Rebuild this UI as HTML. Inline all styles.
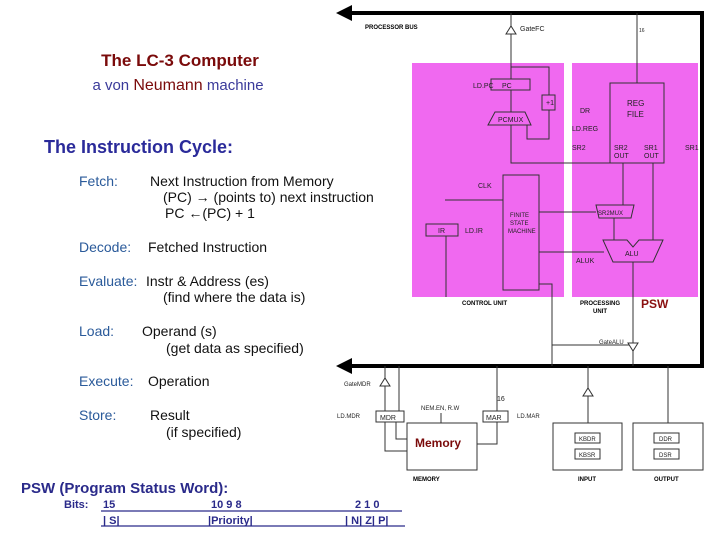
<!DOCTYPE html>
<html><head><style>
html,body{margin:0;padding:0;background:#fff;width:720px;height:540px;overflow:hidden}
</style></head><body>
<svg width="720" height="540" viewBox="0 0 720 540" xmlns="http://www.w3.org/2000/svg" font-family="Liberation Sans, sans-serif">
<!-- left text -->
<text x="180" y="66" text-anchor="middle" font-size="17" font-weight="bold" fill="#7a0a0a">The LC-3 Computer</text>
<text x="178" y="90" text-anchor="middle" font-size="15" fill="#3a3a9a">a von <tspan fill="#7a0a0a" font-size="16">Neumann</tspan> machine</text>
<text x="44" y="153" font-size="18" font-weight="bold" fill="#2a2a9a">The Instruction Cycle:</text>
<g font-size="14" fill="#111">
<text x="79" y="186" fill="#2a5a9a">Fetch:</text>
<text x="150" y="186">Next Instruction from Memory</text>
<text x="163" y="202">(PC) → (points to) next instruction</text>
<text x="165" y="218">PC ←(PC) + 1</text>
<text x="79" y="252" fill="#2a5a9a">Decode:</text>
<text x="148" y="252">Fetched Instruction</text>
<text x="79" y="286" fill="#2a5a9a">Evaluate:</text>
<text x="146" y="286">Instr &amp; Address (es)</text>
<text x="163" y="302">(find where the data is)</text>
<text x="79" y="336" fill="#2a5a9a">Load:</text>
<text x="142" y="336">Operand (s)</text>
<text x="166" y="353">(get data as specified)</text>
<text x="79" y="386" fill="#2a5a9a">Execute:</text>
<text x="148" y="386">Operation</text>
<text x="79" y="420" fill="#2a5a9a">Store:</text>
<text x="150" y="420">Result</text>
<text x="166" y="437">(if specified)</text>
</g>
<text x="21" y="493" font-size="15" font-weight="bold" fill="#2a2a8a">PSW (Program Status Word):</text>
<g font-size="11" font-weight="bold" fill="#2a2a8a">
<text x="64" y="508">Bits:</text>
<text x="103" y="508">15</text>
<text x="211" y="508">10  9  8</text>
<text x="355" y="508">2  1  0</text>
<text x="103" y="524">| S|</text>
<text x="208" y="524">|Priority|</text>
<text x="345" y="524">| N| Z| P|</text>
</g>
<g stroke="#2a2a8a" stroke-width="1.2">
<line x1="101" y1="511" x2="402" y2="511"/><line x1="101" y1="526" x2="405" y2="526"/>
</g>
<!-- pink regions -->
<rect x="412" y="63" width="152" height="234" fill="#f069f0"/>
<rect x="572" y="63" width="126" height="234" fill="#f069f0"/>
<!-- buses -->
<g stroke="#000" stroke-width="4" fill="none">
<polyline points="350,13 702,13 702,366 350,366"/>
</g>
<polygon points="336,13 352,5 352,21" fill="#000"/>
<polygon points="336,366 352,358 352,374" fill="#000"/>
<g font-size="6" font-weight="bold" fill="#000">
<text x="365" y="29">PROCESSOR BUS</text>
<text x="462" y="305">CONTROL UNIT</text>
<text x="580" y="305">PROCESSING</text><text x="593" y="313">UNIT</text>
<text x="413" y="481">MEMORY</text>
<text x="578" y="481">INPUT</text>
<text x="654" y="481">OUTPUT</text>
</g>
<text x="641" y="308" font-size="12" font-weight="bold" fill="#8a1010">PSW</text>
<!-- internal lines -->
<g stroke="#333" stroke-width="1" fill="none">
<line x1="511" y1="13" x2="511" y2="79"/>
<polyline points="511,67 549,67 549,95"/>
<polyline points="549,110 549,139 527,139 527,125"/>
<line x1="511" y1="90" x2="511" y2="112"/>
<line x1="637" y1="13" x2="637" y2="83"/>
<polyline points="511,125 511,163 653,163"/>
<line x1="623" y1="163" x2="623" y2="205"/>
<line x1="653" y1="163" x2="653" y2="240"/>
<line x1="614" y1="218" x2="614" y2="240"/>
<line x1="633" y1="262" x2="633" y2="345"/>
<polyline points="539,212 596,212"/>
<polyline points="539,252 604,252"/>
<polyline points="539,284 552,284 552,366"/>
<line x1="446" y1="236" x2="446" y2="297"/>
<line x1="445" y1="200" x2="503" y2="200"/>
<line x1="633" y1="345" x2="633" y2="366"/>
<polyline points="633,345 552,345"/>
<line x1="385" y1="366" x2="385" y2="411"/>
<line x1="399" y1="366" x2="399" y2="411"/>
<polyline points="385,422 385,451 407,451"/>
<polyline points="396,422 396,439 407,439"/>
<line x1="497" y1="366" x2="497" y2="411"/>
<polyline points="497,422 497,444 477,444"/>
<line x1="588" y1="366" x2="588" y2="423"/>
<line x1="668" y1="366" x2="668" y2="423"/>
<line x1="441" y1="413" x2="441" y2="423"/>
</g>
<!-- boxes -->
<g stroke="#333" stroke-width="1" fill="#f069f0">
<rect x="491" y="79" width="39" height="11"/>
<rect x="542" y="95" width="13" height="15"/>
<polygon points="488,125 531,125 525,112 495,112"/>
<rect x="610" y="83" width="54" height="80"/>
<rect x="503" y="175" width="36" height="115"/>
<rect x="426" y="224" width="32" height="12"/>
<polygon points="599,218 631,218 634,205 596,205"/>
<polygon points="603,240 627,240 633,247 639,240 663,240 653,262 613,262"/>
</g>
<g stroke="#333" stroke-width="1" fill="#fff">
<rect x="376" y="411" width="28" height="11"/>
<rect x="407" y="423" width="70" height="47"/>
<rect x="483" y="411" width="25" height="11"/>
<rect x="553" y="423" width="69" height="47"/>
<rect x="575" y="433" width="25" height="10"/>
<rect x="575" y="449" width="25" height="10"/>
<rect x="633" y="423" width="70" height="47"/>
<rect x="654" y="433" width="25" height="10"/>
<rect x="654" y="449" width="25" height="10"/>
<polygon points="506,34 516,34 511,26"/>
<polygon points="380,386 390,386 385,378"/>
<polygon points="628,343 638,343 633,351"/>
<polygon points="583,396 593,396 588,388"/>
</g>
<g font-size="7" fill="#222">
<text x="520" y="31">GateFC</text>
<text x="502" y="88">PC</text>
<text x="546" y="105">+1</text>
<text x="498" y="122">PCMUX</text>
<text x="473" y="88">LD.PC</text>
<text x="627" y="106" font-size="8">REG</text>
<text x="627" y="117" font-size="8">FILE</text>
<text x="614" y="150">SR2</text><text x="614" y="158">OUT</text>
<text x="644" y="150">SR1</text><text x="644" y="158">OUT</text>
<text x="580" y="113">DR</text>
<text x="572" y="131">LD.REG</text>
<text x="572" y="150">SR2</text>
<text x="685" y="150">SR1</text>
<text x="510" y="217" font-size="6">FINITE</text>
<text x="510" y="225" font-size="6">STATE</text>
<text x="508" y="233" font-size="6">MACHINE</text>
<text x="478" y="188">CLK</text>
<text x="438" y="233">IR</text>
<text x="465" y="233">LD.IR</text>
<text x="598" y="215" font-size="6">SR2MUX</text>
<text x="625" y="256">ALU</text>
<text x="576" y="263">ALUK</text>
<text x="599" y="344" font-size="6">GateALU</text>
<text x="344" y="386" font-size="6">GateMDR</text>
<text x="380" y="420">MDR</text>
<text x="486" y="420">MAR</text>
<text x="337" y="418" font-size="6">LD.MDR</text>
<text x="517" y="418" font-size="6">LD.MAR</text>
<text x="421" y="410" font-size="6">NEM.EN, R.W</text>
<text x="579" y="441" font-size="6">KBDR</text>
<text x="579" y="457" font-size="6">KBSR</text>
<text x="659" y="441" font-size="6">DDR</text>
<text x="659" y="457" font-size="6">DSR</text>
<text x="639" y="32" font-size="5">16</text>
<text x="497" y="401">16</text>
</g>
<text x="415" y="447" font-size="12" font-weight="bold" fill="#7a0a0a">Memory</text>
</svg>
</body></html>
